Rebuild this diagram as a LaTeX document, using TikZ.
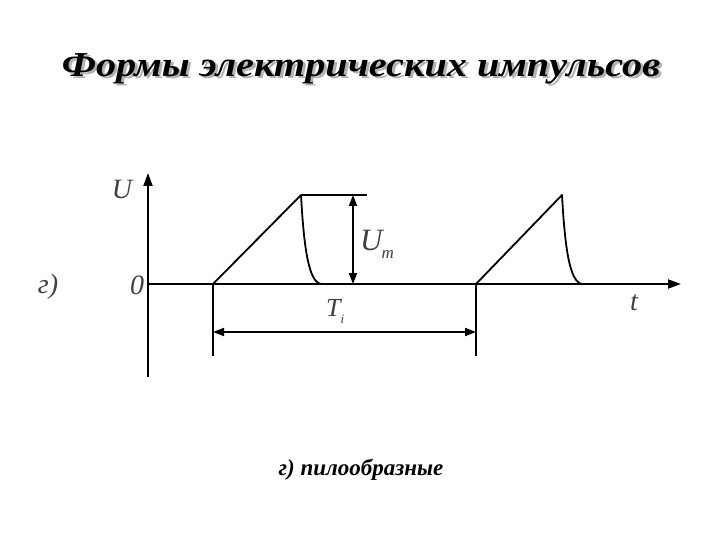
\documentclass[tikz,border=0pt]{standalone}
\usepackage{fontspec}
\setmainfont{Liberation Serif}
\usetikzlibrary{arrows.meta}
\newcommand{\shadowtext}[1]{\rlap{\hspace{2.5pt}\raisebox{-2.5pt}{\color{black!30}#1}}#1}
\tikzset{
  ax/.style={line width=2pt, -{Triangle[length=13pt,width=9pt]}},
  dim/.style={line width=1.8pt, {Triangle[length=11pt,width=8pt]}-{Triangle[length=11pt,width=8pt]}},
  wave/.style={line width=1.8pt, line join=round},
  thin/.style={line width=1.8pt},
  lbl/.style={inner sep=0pt, font=\fontsize{28}{32}\selectfont\itshape, text=black!75},
  titlef/.style={inner sep=0pt, font=\fontsize{35}{40}\selectfont\bfseries\itshape},
}
\begin{document}
\begin{tikzpicture}[x=1pt,y=-1pt]
\useasboundingbox (0,0) rectangle (720,540);
% title with shadow
\node[titlef] (title) at (361,70) {\scalebox{1.15}[1]{\shadowtext{Формы электрических импульсов}}};
% axes
\coordinate (o) at (148,284);
\coordinate (ybot) at (148,377);
\coordinate (ytop) at (148,173);
\coordinate (xend) at (681,284);
\draw[ax] (ybot) -- (ytop);
\draw[ax] (o) -- (xend);
% pulses
\coordinate (a1) at (213,284);
\coordinate (p1) at (301,195);
\coordinate (e1) at (321,284);
\coordinate (a2) at (476,284);
\coordinate (p2) at (562,195);
\coordinate (e2) at (582,284);
\draw[wave] (a1) -- (p1) .. controls (304,250) and (309,282) .. (e1);
\draw[wave] (a2) -- (p2) .. controls (565,250) and (570,282) .. (e2);
% Um
\coordinate (topr) at (367,195);
\draw[thin] (p1) -- (topr);
\coordinate (um1) at (353,195);
\coordinate (um2) at (353,284);
\draw[dim] (um1) -- (um2);
% period
\coordinate (v1) at (213,356);
\coordinate (v2) at (476,356);
\draw[thin] (a1) -- (v1);
\draw[thin] (a2) -- (v2);
\coordinate (t1) at (213,332);
\coordinate (t2) at (476,332);
\draw[dim] (t1) -- (t2);
% labels
\node[lbl] (lU) at (122,189) {U};
\node[lbl] (l0) at (137,285) {0};
\node[lbl] (lg) at (48,287) {г)};
\node[lbl, anchor=west, font=\fontsize{31}{34}\selectfont\itshape] (lUm) at (360,244) {U\kern-1pt\raisebox{-8pt}{\fontsize{17}{18}\selectfont m}};
\node[lbl, anchor=west, font=\fontsize{26}{30}\selectfont\itshape] (lT) at (326,311) {T\raisebox{-7pt}{\fontsize{13}{14}\selectfont i}};
\node[lbl] (lt) at (634,303) {t};
\node[inner sep=0pt, font=\fontsize{23}{26}\selectfont\bfseries\itshape] (cap) at (361,470) {г) пилообразные};
\end{tikzpicture}
\end{document}
